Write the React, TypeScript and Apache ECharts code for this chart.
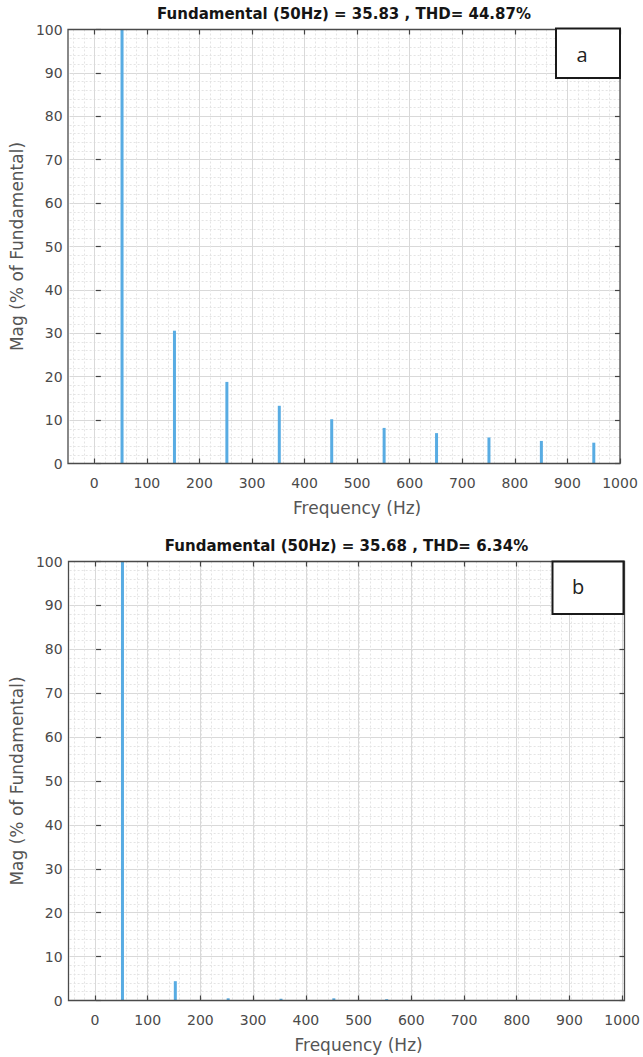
import React, { useEffect, useRef } from "react";
import * as echarts from "echarts";

// ---- data ----
const harmonicFreqs = [50, 150, 250, 350, 450, 550, 650, 750, 850, 950];
const magA = [100, 30.6, 18.8, 13.3, 10.2, 8.2, 7.0, 6.0, 5.2, 4.8];
const magB = [100, 4.4, 0.5, 0.4, 0.5, 0.3, 0.15, 0.1, 0.1, 0.1];
const titles = [
  "Fundamental (50Hz) = 35.83 , THD= 44.87%",
  "Fundamental (50Hz) = 35.68 , THD= 6.34%",
];
const panelTags = ["a", "b"];
const xTickMin = 0;
const xTickMax = 1000;
const xTickStep = 100;
const yTickMin = 0;
const yTickMax = 100;
const yTickStep = 10;

const XMIN = -50;
const XMAX = 1000;
const W = 643;
const H = 1057;
const FONT = "DejaVu Sans";
const BAR = "#58ACE3";

const panels = [
  { data: magA, title: titles[0], tag: panelTags[0], L: 68, R: 620, T: 29.5, B: 463.5, titleY: 14, box: { x: 556, y: 28.5, w: 64, h: 49.5 }, tagX: 582, tagY: 54 },
  { data: magB, title: titles[1], tag: panelTags[1], L: 68.5, R: 624.5, T: 561.5, B: 1000.5, titleY: 546, box: { x: 552.5, y: 561.5, w: 71, h: 52.5 }, tagX: 578, tagY: 586 },
];

const fmt = (v: number) => String(v);

function buildOption() {
  const grid: any[] = [];
  const xAxis: any[] = [];
  const yAxis: any[] = [];
  const series: any[] = [];
  const graphic: any[] = [];

  panels.forEach((p) => {
    const px = (v: number) => p.L + ((v - XMIN) / (XMAX - XMIN)) * (p.R - p.L);
    const height = p.B - p.T;
    const gMain = grid.length;
    grid.push({ left: p.L, width: p.R - p.L, top: p.T, height, show: true, borderWidth: 0, backgroundColor: "#ffffff", containLabel: false });
    const gMinor = grid.length;
    grid.push({ left: px(-40), width: p.R - px(-40), top: p.T, height, show: false });
    const gMajor = grid.length;
    grid.push({ left: px(xTickMin), width: p.R - px(xTickMin), top: p.T, height, show: false });

    const xMainIdx = xAxis.length;
    xAxis.push({ type: "value", gridIndex: gMain, min: XMIN, max: XMAX, show: false, splitLine: { show: false } });
    xAxis.push({
      type: "value", gridIndex: gMinor, min: -40, max: XMAX, interval: 20,
      axisLine: { show: false }, axisTick: { show: false }, axisLabel: { show: false },
      splitLine: { show: true, lineStyle: { color: "#e4e4e4", type: [2, 2], width: 1 } },
    });
    xAxis.push({
      type: "value", gridIndex: gMajor, min: xTickMin, max: xTickMax, interval: xTickStep, position: "bottom",
      axisLine: { show: false },
      axisTick: { show: true, inside: true, length: 5, lineStyle: { color: "#444", width: 1.2 } },
      axisLabel: { show: true, margin: 12, color: "#4a4a4a", fontFamily: FONT, fontSize: 14, formatter: fmt },
      splitLine: { show: true, lineStyle: { color: "#d9d9d9", width: 1 } },
      name: "Frequency (Hz)", nameLocation: "middle", nameGap: 36,
      nameTextStyle: { color: "#555", fontFamily: FONT, fontSize: 17 },
    });
    xAxis.push({
      type: "value", gridIndex: gMajor, min: xTickMin, max: xTickMax, interval: xTickStep, position: "top",
      axisLine: { show: false },
      axisTick: { show: true, inside: true, length: 5, lineStyle: { color: "#444", width: 1.2 } },
      axisLabel: { show: false }, splitLine: { show: false },
    });

    const yMainIdx = yAxis.length;
    yAxis.push({
      type: "value", gridIndex: gMain, min: yTickMin, max: yTickMax, interval: yTickStep, position: "left",
      axisLine: { show: false },
      axisTick: { show: true, inside: true, length: 5, lineStyle: { color: "#444", width: 1.2 } },
      axisLabel: { show: true, margin: 7, color: "#4a4a4a", fontFamily: FONT, fontSize: 14, formatter: fmt },
      splitLine: { show: true, lineStyle: { color: "#d9d9d9", width: 1 } },
      minorTick: { show: false, splitNumber: 5 },
      minorSplitLine: { show: true, lineStyle: { color: "#e4e4e4", type: [2, 2], width: 1 } },
      name: "Mag (% of Fundamental)", nameLocation: "middle", nameGap: 41, nameRotate: 90,
      nameTextStyle: { color: "#555", fontFamily: FONT, fontSize: 17 },
    });
    yAxis.push({
      type: "value", gridIndex: gMain, min: yTickMin, max: yTickMax, interval: yTickStep, position: "right",
      axisLine: { show: false },
      axisTick: { show: true, inside: true, length: 5, lineStyle: { color: "#444", width: 1.2 } },
      axisLabel: { show: false }, splitLine: { show: false },
    });
    yAxis.push({ type: "value", gridIndex: gMinor, min: yTickMin, max: yTickMax, show: false, splitLine: { show: false } });
    yAxis.push({ type: "value", gridIndex: gMajor, min: yTickMin, max: yTickMax, show: false, splitLine: { show: false } });

    series.push({
      type: "bar",
      xAxisIndex: xMainIdx,
      yAxisIndex: yMainIdx,
      barWidth: 3,
      itemStyle: { color: BAR },
      data: harmonicFreqs.map((f, i) => [f, p.data[i]]),
      z: 5,
    });

    // plot frame (box)
    graphic.push({
      type: "rect",
      shape: { x: p.L, y: p.T, width: p.R - p.L, height: p.B - p.T },
      style: { fill: "none", stroke: "#4a4a4a", lineWidth: 1.3 },
      z: 8,
      silent: true,
    });
    graphic.push({
      type: "text",
      x: (p.L + p.R) / 2,
      y: p.titleY,
      style: { text: p.title, fill: "#151515", font: `bold 15px "${FONT}"`, textAlign: "center", textVerticalAlign: "middle" },
      z: 10,
    });
    graphic.push({
      type: "rect",
      shape: { x: p.box.x, y: p.box.y, width: p.box.w, height: p.box.h },
      style: { fill: "#ffffff", stroke: "#1a1a1a", lineWidth: 2 },
      z: 10,
    });
    graphic.push({
      type: "text",
      x: p.tagX,
      y: p.tagY,
      style: { text: p.tag, fill: "#222", font: `20px "Open Sans"`, textAlign: "center", textVerticalAlign: "middle" },
      z: 11,
    });
  });

  return {
    animation: false,
    backgroundColor: "#ffffff",
    grid,
    xAxis,
    yAxis,
    series,
    graphic,
  };
}

export default function App() {
  const ref = useRef<HTMLDivElement>(null);
  useEffect(() => {
    document.body.style.margin = "0";
    const chart = echarts.init(ref.current!, null, { renderer: "svg", width: W, height: H });
    chart.setOption(buildOption() as any);
    return () => chart.dispose();
  }, []);
  return <div ref={ref} style={{ width: W, height: H, position: "absolute", left: 0, top: 0 }} />;
}
